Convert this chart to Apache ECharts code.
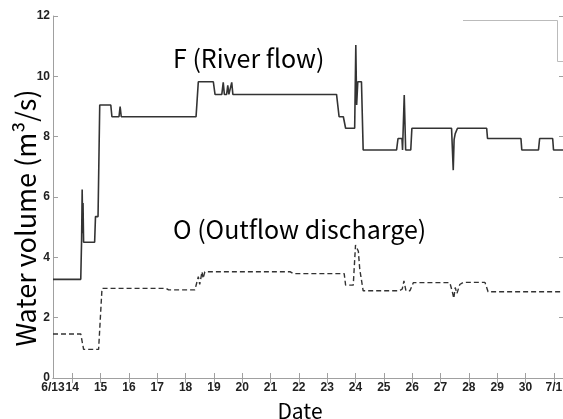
<!DOCTYPE html>
<html>
<head>
<meta charset="utf-8">
<script src="https://cdn.jsdelivr.net/npm/echarts@6/dist/echarts.min.js"></script>
<style>html,body{margin:0;padding:0;background:#fff;}#c{width:563px;height:419px;}</style>
</head>
<body>
<div id="c"></div>
<script>
// Day numbers: 13 = 6/13 ... 30 = 6/30, 31 = 7/1
var xMin = 13.32, xMax = 31.36;
var dayTicks = [14,15,16,17,18,19,20,21,22,23,24,25,26,27,28,29,30,31];
var dayLabelValues = [13.32,14,15,16,17,18,19,20,21,22,23,24,25,26,27,28,29,30,31];
var yTicks = [0,2,4,6,8,10,12];
var xTitle = 'Date';
var yTitle = 'Water volume (m³/s)';

// F (River flow), [day, m3/s]
var riverFlow = [
  [13.32,3.27],[14.30,3.27],[14.33,4.6],[14.35,6.25],[14.37,4.8],[14.38,5.8],[14.40,4.5],
  [14.79,4.5],[14.82,5.35],[14.91,5.35],[14.97,9.05],[15.36,9.05],[15.40,8.66],[15.65,8.66],
  [15.69,9.0],[15.73,8.66],[18.37,8.66],[18.45,9.82],[18.98,9.82],[19.04,9.40],[19.28,9.40],
  [19.33,9.80],[19.37,9.40],[19.45,9.40],[19.49,9.7],[19.53,9.40],[19.58,9.40],[19.63,9.80],
  [19.67,9.40],[23.33,9.40],[23.42,8.66],[23.57,8.66],[23.65,8.28],[23.97,8.28],[24.01,11.04],
  [24.04,9.05],[24.08,9.82],[24.21,9.82],[24.27,7.56],[25.45,7.56],[25.50,7.94],[25.64,7.94],
  [25.66,7.56],[25.72,9.38],[25.77,7.56],[25.95,7.56],[25.99,8.28],[27.39,8.28],[27.45,6.89],
  [27.48,7.9],[27.52,8.1],[27.60,8.28],[28.63,8.28],[28.66,7.94],[29.84,7.94],[29.87,7.56],
  [30.46,7.56],[30.50,7.94],[30.96,7.94],[30.99,7.56],[31.36,7.56]
];
// O (Outflow discharge), [day, m3/s]
var outflow = [
  [13.32,1.46],[14.30,1.46],[14.40,0.95],[14.93,0.95],[15.05,2.97],[17.32,2.97],[17.40,2.92],
  [18.33,2.92],[18.45,3.36],[18.50,3.1],[18.58,3.52],[18.62,3.3],[18.68,3.52],[21.70,3.52],
  [21.80,3.46],[23.60,3.46],[23.65,3.08],[23.92,3.08],[24.00,4.41],[24.10,4.2],[24.15,3.6],
  [24.27,2.89],[25.55,2.89],[25.65,2.95],[25.71,3.22],[25.78,2.89],[25.92,2.89],[26.04,3.16],
  [27.33,3.16],[27.42,2.85],[27.47,2.64],[27.52,3.0],[27.58,2.8],[27.68,3.1],[27.80,3.17],
  [28.57,3.17],[28.68,2.86],[31.36,2.86]
];

function dayLabel(v){
  if (v < 13.5) return '6/13';
  if (v > 30.5) return '7/1';
  return String(Math.round(v));
}

var axisCol = '#a0a0a0';
var labelStyle = {color:'#222', fontWeight:'bold', fontFamily:'Liberation Sans', fontSize:12};

var chart = echarts.init(document.getElementById('c'), null, {renderer:'canvas'});
chart.setOption({
  animation:false,
  backgroundColor:'#fff',
  grid:{left:53, top:16, width:511, height:362, containLabel:false, outerBoundsMode:'none'},
  xAxis:[{
    type:'value', min:xMin, max:xMax, position:'bottom',
    axisLine:{show:true, lineStyle:{color:axisCol, width:1}},
    axisTick:{show:true, inside:true, length:5, customValues:dayTicks, lineStyle:{color:axisCol}},
    axisLabel:Object.assign({margin:4, customValues:dayLabelValues, formatter:dayLabel}, labelStyle),
    splitLine:{show:false}
  },{
    type:'value', min:xMin, max:xMax, position:'top',
    axisLine:{show:true, lineStyle:{color:axisCol, width:1}},
    axisTick:{show:true, inside:true, length:5, customValues:dayTicks, lineStyle:{color:axisCol}},
    axisLabel:{show:false}, splitLine:{show:false}
  }],
  yAxis:[{
    type:'value', min:0, max:12, interval:2, position:'left',
    axisLine:{show:true, lineStyle:{color:axisCol, width:1}},
    axisTick:{show:true, inside:true, length:5, lineStyle:{color:axisCol}},
    axisLabel:Object.assign({margin:3, formatter:function(v){return String(v);}}, labelStyle),
    splitLine:{show:false}
  },{
    type:'value', min:0, max:12, interval:2, position:'right',
    axisLine:{show:true, lineStyle:{color:axisCol, width:1}},
    axisTick:{show:true, inside:true, length:5, lineStyle:{color:axisCol}},
    axisLabel:{show:false}, splitLine:{show:false}
  }],
  series:[{
    name:'F (River flow)', type:'line', data:riverFlow, showSymbol:false, symbol:'none',
    lineStyle:{color:'#333', width:1.6}, xAxisIndex:0, yAxisIndex:0
  },{
    name:'O (Outflow discharge)', type:'line', data:outflow, showSymbol:false, symbol:'none',
    lineStyle:{color:'#333', width:1.4, type:[5,3]}, xAxisIndex:0, yAxisIndex:0
  }],
  graphic:[
    {type:'text', x:26, y:218, rotation:Math.PI/2, style:{text:yTitle, font:'27px "Noto Sans CJK JP"', fill:'#000', align:'center', verticalAlign:'middle'}},
    {type:'text', x:300, y:411, style:{text:xTitle, font:'21px "Noto Sans CJK JP"', fill:'#000', align:'center', verticalAlign:'middle'}},
    {type:'text', left:173, top:46, style:{text:'F (River flow)', font:'25px "Noto Sans CJK JP"', fill:'#000'}},
    {type:'text', left:173, top:217, style:{text:'O (Outflow discharge)', font:'25px "Noto Sans CJK JP"', fill:'#000'}},
    {type:'polyline', shape:{points:[[463,20.5],[557.5,20.5],[557.5,61.5],[563,61.5]]}, style:{stroke:'#bbb', lineWidth:1, fill:null}}
  ]
});
</script>
</body>
</html>
